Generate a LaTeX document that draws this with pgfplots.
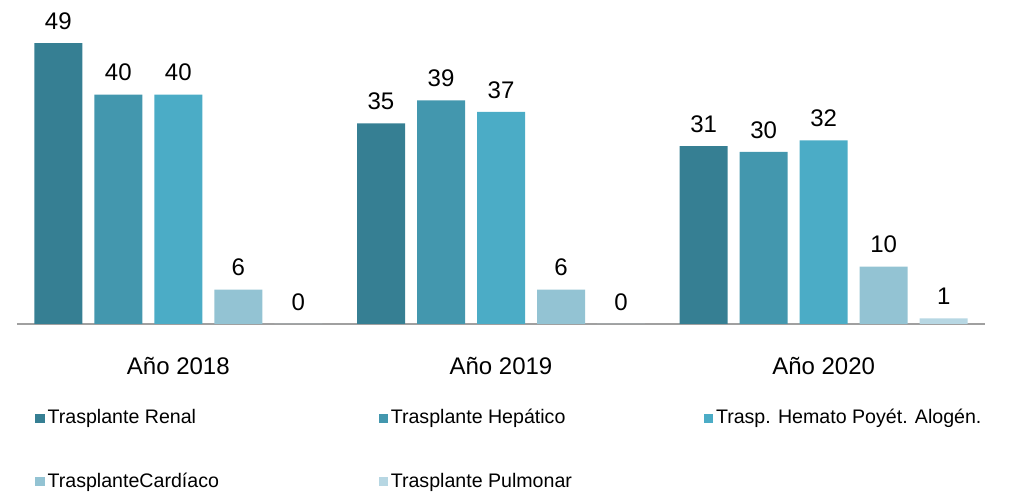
\documentclass[border=0pt]{standalone}
\usepackage{pgfplots}
\pgfplotsset{compat=1.18}
\usepackage{fontspec}
\setmainfont{Liberation Sans}
\definecolor{cA}{HTML}{367F93}
\definecolor{cB}{HTML}{4397AE}
\definecolor{cC}{HTML}{4BACC6}
\definecolor{cD}{HTML}{93C3D3}
\definecolor{cE}{HTML}{B7D7E3}
\begin{document}
\begin{tikzpicture}
\useasboundingbox (-8.5pt,-84pt) rectangle (497pt,162pt);
\begin{axis}[
  scale only axis,
  width=484pt, height=162pt,
  xmin=-0.5, xmax=2.5, ymin=0, ymax=56.5,
  ybar=6pt, bar width=24pt,
  axis x line=bottom, axis y line=none,
  x axis line style={-, draw={rgb,255:red,160;green,160;blue,160}, line width=0.8pt},
  xtick={0,1,2}, xticklabels={Año 2018, Año 2019, Año 2020},
  xtick style={draw=none}, ytick=\empty,
  xticklabel style={font=\fontsize{12}{14}\selectfont, anchor=base, yshift=-23pt},
  /pgf/number format/assume math mode=true,
  nodes near coords,
  every node near coord/.append style={font=\fontsize{12}{14}\selectfont, black, yshift=3.2pt},
  legend style={draw=none, fill=none, at={(rel axis cs:0,0)}, anchor=north west,
    xshift=9pt, yshift=-42.5pt, inner sep=0pt, column sep=0pt, row sep=23pt,
    font=\fontsize{9.8}{11}\selectfont,
    nodes={inner sep=0pt}},
  legend columns=3,
  legend cell align=left,
  legend image code/.code={\fill[#1] (0pt,-2.3pt) rectangle (4.6pt,2.3pt);},
]
\addplot[fill=cA, draw=none] coordinates {(0,49) (1,35) (2,31)};
\addplot[fill=cB, draw=none] coordinates {(0,40) (1,39) (2,30)};
\addplot[fill=cC, draw=none] coordinates {(0,40) (1,37) (2,32)};
\addplot[fill=cD, draw=none] coordinates {(0,6) (1,6) (2,10)};
\addplot[fill=cE, draw=none] coordinates {(0,0) (1,0) (2,1)};
\addlegendentry{\makebox[167pt][l]{\hspace{1.5pt}Trasplante Renal}}
\addlegendentry{\makebox[158pt][l]{\hspace{1.5pt}Trasplante Hepático}}
\addlegendentry{\hspace{1.5pt}Trasp. Hemato Poyét. Alogén.}
\addlegendentry{\makebox[167pt][l]{\hspace{1.5pt}TrasplanteCardíaco}}
\addlegendentry{\makebox[158pt][l]{\hspace{1.5pt}Trasplante Pulmonar}}
\end{axis}
\end{tikzpicture}
\end{document}
